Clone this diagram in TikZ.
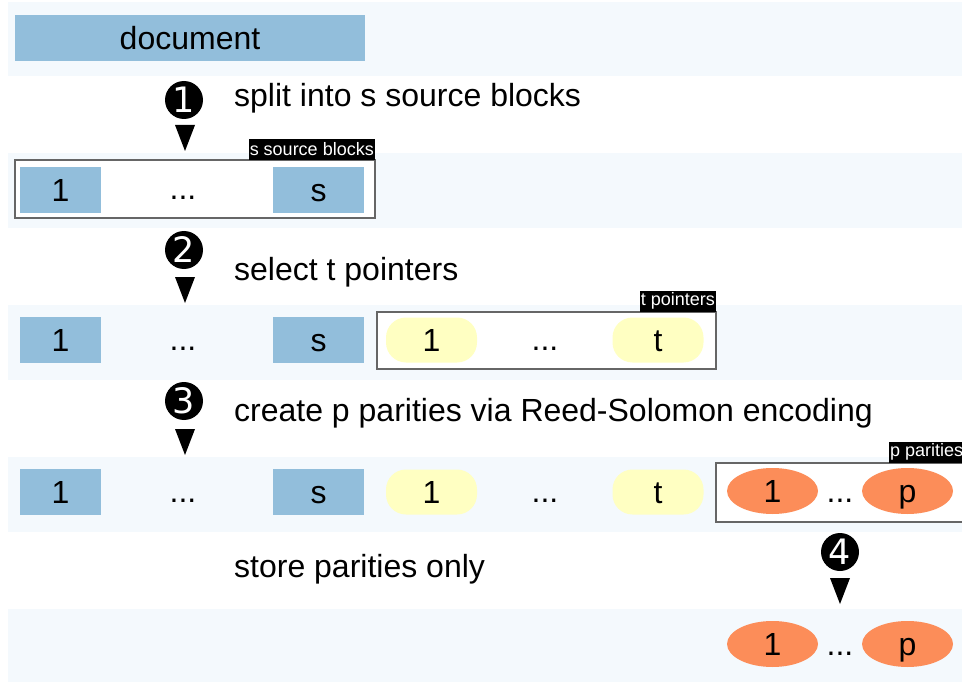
\documentclass[tikz,border=0pt]{standalone}
\usepackage{fontspec}
\setmainfont{Liberation Sans}
\newfontfamily\dingfont{DejaVu Sans}
\usetikzlibrary{positioning,shapes.geometric}

\definecolor{bandbg}{HTML}{F4F9FD}
\definecolor{srcblue}{HTML}{92BEDB}
\definecolor{ptryellow}{HTML}{FFFFC2}
\definecolor{parorange}{HTML}{FC8D59}
\definecolor{framegray}{HTML}{666666}

\tikzset{
  big/.style={font=\fontsize{32}{38}\selectfont},
  band/.style={fill=bandbg, draw=none},
  cell/.style={big, text height=22pt, text depth=0pt, inner sep=0pt},
  srcblock/.style={cell, fill=srcblue, minimum width=81pt, minimum height=46pt},
  srclast/.style={srcblock, minimum width=91pt},
  ptrblock/.style={cell, fill=ptryellow, rounded corners=20pt, minimum width=91pt, minimum height=45pt},
  parblock/.style={cell, ellipse, fill=parorange, minimum width=91pt, minimum height=46pt},
  dots/.style={big, inner sep=0pt, anchor=base},
  group/.style={draw=framegray, line width=1.2pt, fill=white},
  tag/.style={fill=black, text=white, font=\fontsize{18}{20}\selectfont, inner sep=1pt, minimum height=21pt},
  stepnum/.style={circle, fill=black, text=white, minimum size=38pt, inner sep=0pt,
    font=\dingfont\fontsize{35}{38}\selectfont},
  steptext/.style={big, anchor=base west, inner sep=0pt},
}

\newcommand{\downmark}[1]{\fill (#1) ++(-10pt,0) -- ++(20pt,0) -- ++(-10pt,-26pt) -- cycle;}

\begin{document}
\begin{tikzpicture}[x=1pt, y=-1pt]
\useasboundingbox (0,0) rectangle (962,682);
\clip (0,0) rectangle (962,682);

% horizontal bands
\path[band] (8,2) rectangle (962,76);
\path[band] (8,153) rectangle (962,228);
\path[band] (8,305) rectangle (962,380);
\path[band] (8,457) rectangle (962,532);
\path[band] (8,609) rectangle (962,682);

% document
\node[big, fill=srcblue, minimum width=350pt, minimum height=46pt, inner sep=0pt] (doc) at (190,38) {document};

% step 1
\node[stepnum] (n1) at (184,100) {1};
\coordinate (a1) at (185,125);
\downmark{a1}
\node[steptext] (t1) at (234,107) {split into s source blocks};

% row 2: source blocks
\path[group] (15,160) rectangle (375,218);
\coordinate (g2ne) at (375,160);
\node[tag, anchor=south east] (tag2) at (g2ne) {s source blocks};
\node[srcblock] (b21) at (60.5,190) {1};
\node[dots] (d21) at (183,200) {...};
\node[srclast] (b2s) at (318.5,190) {s};

% step 2
\node[stepnum] (n2) at (184,250) {2};
\coordinate (a2) at (185,277);
\downmark{a2}
\node[steptext] (t2) at (234,280) {select t pointers};

% row 3: source blocks and pointers
\node[srcblock] (b31) at (60.5,340) {1};
\node[dots] (d31) at (183,350) {...};
\node[srclast] (b3s) at (318.5,340) {s};
\path[group] (377,312) rectangle (716,369);
\coordinate (g3ne) at (716,312);
\node[tag, anchor=south east] (tag3) at (g3ne) {t pointers};
\node[ptrblock] (p31) at (431.5,340) {1};
\node[dots] (d32) at (545,350) {...};
\node[ptrblock] (p3t) at (658,340) {t};

% step 3
\node[stepnum] (n3) at (184,401) {3};
\coordinate (a3) at (185,429);
\downmark{a3}
\node[steptext] (t3) at (234,421) {create p parities via Reed-Solomon encoding};

% row 4: source blocks, pointers and parities
\node[srcblock] (b41) at (60.5,492) {1};
\node[dots] (d41) at (183,502) {...};
\node[srclast] (b4s) at (318.5,492) {s};
\node[ptrblock] (p41) at (431.5,492) {1};
\node[dots] (d42) at (545,502) {...};
\node[ptrblock] (p4t) at (658,492) {t};
\path[group] (716,463) rectangle (975,522);
\coordinate (g4nw) at (889,463);
\node[tag, anchor=south west] (tag4) at (g4nw) {p parities};
\node[parblock] (q41) at (772.5,491) {1};
\node[dots] (d43) at (840,502) {...};
\node[parblock] (q4p) at (907.5,491) {p};

% step 4
\node[stepnum] (n4) at (840,552) {4};
\coordinate (a4) at (840,578);
\downmark{a4}
\node[steptext] (t4) at (234,577) {store parities only};

% row 5: stored parities
\node[parblock] (q51) at (772.5,644) {1};
\node[dots] (d51) at (840,655) {...};
\node[parblock] (q5p) at (907.5,644) {p};
\end{tikzpicture}
\end{document}
